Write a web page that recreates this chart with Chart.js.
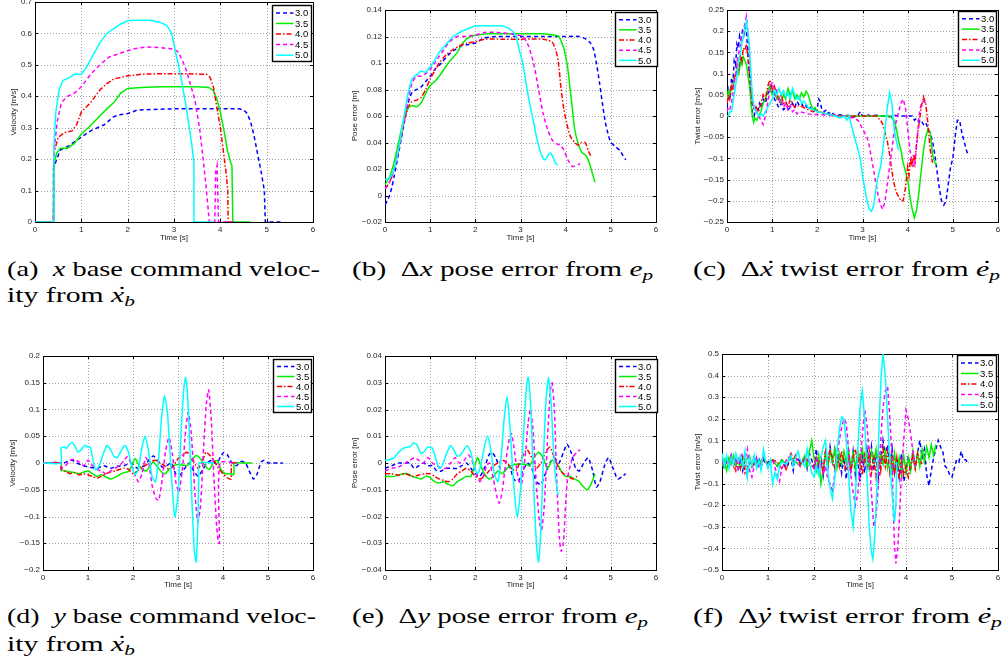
<!DOCTYPE html>
<html><head><meta charset="utf-8">
<script src="https://cdn.jsdelivr.net/npm/chart.js@4/dist/chart.umd.min.js"></script>
<style>
html,body{margin:0;padding:0;background:#fff}
body{width:1004px;height:666px;position:relative;overflow:hidden}
canvas{position:absolute}
.cap{position:absolute;display:inline-block;font-family:"Liberation Serif","Times New Roman",serif;font-size:21px;line-height:21px;white-space:nowrap;transform-origin:0 0;color:#000}
.cap i{font-style:italic}
.acc{position:relative;display:inline-block}
.acc::before{content:"\02D9";position:absolute;left:0.2em;top:-0.06em;font-style:normal}
.cap sub{font-size:0.72em;vertical-align:-0.28em;line-height:0}
</style></head><body>
<canvas id="cA" width="322" height="246" style="left:0px;top:0px"></canvas>
<canvas id="cB" width="330" height="246" style="left:335px;top:0px"></canvas>
<canvas id="cC" width="334" height="246" style="left:670px;top:0px"></canvas>
<canvas id="cD" width="322" height="248" style="left:0px;top:346px"></canvas>
<canvas id="cE" width="330" height="248" style="left:335px;top:346px"></canvas>
<canvas id="cF" width="334" height="248" style="left:670px;top:346px"></canvas>

<div class="cap" id="capA1" data-w="313" style="left:7px;top:259px">(a)&nbsp;&nbsp;<i>x</i> base command veloc-</div>
<div class="cap" id="capA2" data-w="128" style="left:7px;top:285px">ity from <i class="acc">x</i><sub><i>b</i></sub></div>
<div class="cap" id="capB" data-w="301" style="left:352px;top:259px">(b)&nbsp;&nbsp;Δ<i>x</i> pose error from <i>e</i><sub><i>p</i></sub></div>
<div class="cap" id="capC" data-w="307" style="left:693px;top:259px">(c)&nbsp;&nbsp;Δ<i class="acc">x</i> twist error from <i class="acc">e</i><sub><i>p</i></sub></div>
<div class="cap" id="capD1" data-w="309" style="left:7px;top:606px">(d)&nbsp;&nbsp;<i>y</i> base command veloc-</div>
<div class="cap" id="capD2" data-w="128" style="left:7px;top:634px">ity from <i class="acc">x</i><sub><i>b</i></sub></div>
<div class="cap" id="capE" data-w="296" style="left:352px;top:606px">(e)&nbsp;&nbsp;Δ<i>y</i> pose error from <i>e</i><sub><i>p</i></sub></div>
<div class="cap" id="capF" data-w="309" style="left:693px;top:606px">(f)&nbsp;&nbsp;Δ<i class="acc">y</i> twist error from <i class="acc">e</i><sub><i>p</i></sub></div>

<script>
// ---------- series / ticks ----------
const seriesLabels = ['3.0','3.5','4.0','4.5','5.0'];
const xTicks = [0,1,2,3,4,5,6];
const xTickLabels = ['0','1','2','3','4','5','6'];
const xTitle = 'Time [s]';

const yTicksA = [0,0.1,0.2,0.3,0.4,0.5,0.6,0.7];
const yTickLabelsA = ['0','0.1','0.2','0.3','0.4','0.5','0.6','0.7'];
const yTicksB = [-0.02,0,0.02,0.04,0.06,0.08,0.1,0.12,0.14];
const yTickLabelsB = ['\u22120.02','0','0.02','0.04','0.06','0.08','0.1','0.12','0.14'];
const yTicksC = [-0.25,-0.2,-0.15,-0.1,-0.05,0,0.05,0.1,0.15,0.2,0.25];
const yTickLabelsC = ['\u22120.25','\u22120.2','\u22120.15','\u22120.1','\u22120.05','0','0.05','0.1','0.15','0.2','0.25'];
const yTicksD = [-0.2,-0.15,-0.1,-0.05,0,0.05,0.1,0.15,0.2];
const yTickLabelsD = ['\u22120.2','\u22120.15','\u22120.1','\u22120.05','0','0.05','0.1','0.15','0.2'];
const yTicksE = [-0.04,-0.03,-0.02,-0.01,0,0.01,0.02,0.03,0.04];
const yTickLabelsE = ['\u22120.04','\u22120.03','\u22120.02','\u22120.01','0','0.01','0.02','0.03','0.04'];
const yTicksF = [-0.5,-0.4,-0.3,-0.2,-0.1,0,0.1,0.2,0.3,0.4,0.5];
const yTickLabelsF = ['\u22120.5','\u22120.4','\u22120.3','\u22120.2','\u22120.1','0','0.1','0.2','0.3','0.4','0.5'];

// (a) x base command velocity [t, v]
const velX30 = [[0,0],[0.4,0],[0.4,0.17],[0.47,0.2],[0.55,0.23],[0.7,0.24],[0.85,0.255],[1.0,0.27],[1.2,0.29],[1.35,0.3],[1.5,0.31],[1.7,0.335],[1.85,0.342],[2.0,0.345],[2.1,0.35],[2.2,0.356],[2.5,0.358],[3.0,0.36],[3.5,0.36],[4.0,0.36],[4.4,0.36],[4.5,0.357],[4.58,0.345],[4.65,0.32],[4.72,0.28],[4.8,0.22],[4.88,0.16],[4.95,0.1],[4.97,0],[5.33,0]];
const velX35 = [[0,0],[0.4,0],[0.4,0.18],[0.47,0.22],[0.55,0.235],[0.7,0.235],[0.85,0.25],[1.0,0.28],[1.15,0.3],[1.35,0.33],[1.55,0.36],[1.7,0.38],[1.85,0.41],[2.0,0.425],[2.3,0.428],[2.7,0.43],[3.0,0.43],[3.5,0.43],[3.75,0.428],[3.85,0.418],[3.93,0.39],[4.0,0.35],[4.08,0.29],[4.15,0.23],[4.22,0.19],[4.25,0.18],[4.27,0],[4.65,0]];
const velX40 = [[0,0],[0.4,0],[0.41,0.22],[0.5,0.27],[0.65,0.285],[0.8,0.29],[0.9,0.31],[1.0,0.35],[1.2,0.38],[1.4,0.42],[1.55,0.44],[1.7,0.455],[2.0,0.465],[2.3,0.47],[2.7,0.472],[3.2,0.472],[3.6,0.47],[3.7,0.47],[3.78,0.46],[3.85,0.43],[3.92,0.37],[4.0,0.3],[4.07,0.22],[4.13,0.15],[4.16,0.1],[4.17,0],[4.3,0]];
const velX45 = [[0,0],[0.4,0],[0.42,0.24],[0.48,0.32],[0.57,0.38],[0.7,0.4],[0.85,0.41],[1.0,0.43],[1.2,0.47],[1.4,0.5],[1.6,0.525],[1.9,0.54],[2.1,0.55],[2.4,0.557],[2.7,0.555],[3.0,0.55],[3.1,0.54],[3.25,0.49],[3.35,0.44],[3.45,0.39],[3.55,0.3],[3.63,0.2],[3.7,0.1],[3.75,0.02],[3.76,0],[3.88,0],[3.9,0.16],[3.93,0.18],[3.96,0],[4.3,0]];
const velX50 = [[0,0],[0.4,0],[0.41,0.25],[0.45,0.35],[0.52,0.42],[0.6,0.45],[0.75,0.46],[0.85,0.47],[1.0,0.47],[1.1,0.49],[1.25,0.53],[1.4,0.57],[1.55,0.6],[1.7,0.615],[1.85,0.63],[2.0,0.64],[2.2,0.642],[2.5,0.642],[2.7,0.635],[2.85,0.625],[2.95,0.6],[3.05,0.53],[3.15,0.46],[3.27,0.36],[3.38,0.25],[3.43,0.19],[3.43,0],[3.84,0]];

// (b) x pose error
const poseX30 = [[0,-0.007],[0.05,-0.004],[0.1,0.0],[0.15,0.006],[0.2,0.014],[0.3,0.032],[0.4,0.05],[0.5,0.068],[0.6,0.078],[0.7,0.08],[0.8,0.082],[0.9,0.086],[1.0,0.09],[1.1,0.095],[1.25,0.1],[1.4,0.106],[1.55,0.11],[1.7,0.113],[1.85,0.114],[2.0,0.115],[2.1,0.117],[2.2,0.119],[2.5,0.12],[3.0,0.12],[3.5,0.12],[4.0,0.12],[4.3,0.12],[4.45,0.118],[4.55,0.115],[4.62,0.11],[4.68,0.1],[4.75,0.085],[4.82,0.068],[4.88,0.055],[4.95,0.045],[5.0,0.04],[5.1,0.037],[5.2,0.034],[5.27,0.03],[5.33,0.027]];
const poseX35 = [[0,0.008],[0.1,0.014],[0.2,0.025],[0.3,0.04],[0.4,0.055],[0.5,0.065],[0.55,0.067],[0.6,0.068],[0.7,0.067],[0.8,0.07],[0.9,0.077],[1.0,0.083],[1.1,0.086],[1.2,0.09],[1.3,0.095],[1.4,0.1],[1.5,0.104],[1.6,0.108],[1.7,0.114],[1.8,0.118],[1.9,0.12],[2.0,0.121],[2.3,0.122],[3.0,0.122],[3.5,0.122],[3.75,0.121],[3.85,0.12],[3.95,0.112],[4.0,0.105],[4.05,0.095],[4.1,0.08],[4.15,0.065],[4.2,0.05],[4.27,0.04],[4.35,0.033],[4.45,0.03],[4.52,0.025],[4.58,0.018],[4.65,0.01]];
const poseX40 = [[0,0.005],[0.1,0.01],[0.2,0.02],[0.3,0.035],[0.4,0.052],[0.5,0.066],[0.6,0.071],[0.7,0.072],[0.8,0.074],[0.9,0.08],[1.0,0.088],[1.1,0.094],[1.2,0.1],[1.35,0.106],[1.5,0.11],[1.65,0.113],[1.8,0.115],[2.0,0.116],[2.2,0.118],[2.6,0.118],[3.0,0.118],[3.5,0.118],[3.62,0.117],[3.7,0.116],[3.78,0.11],[3.84,0.1],[3.9,0.08],[3.96,0.065],[4.02,0.055],[4.1,0.045],[4.2,0.04],[4.28,0.038],[4.35,0.04],[4.43,0.04],[4.5,0.034],[4.55,0.03]];
const poseX45 = [[0,0.005],[0.1,0.01],[0.2,0.02],[0.3,0.035],[0.4,0.052],[0.5,0.07],[0.6,0.085],[0.7,0.09],[0.8,0.09],[0.9,0.092],[1.0,0.095],[1.1,0.1],[1.2,0.105],[1.3,0.11],[1.4,0.115],[1.5,0.118],[1.6,0.12],[1.8,0.12],[2.0,0.121],[2.2,0.123],[2.5,0.123],[2.8,0.122],[2.95,0.121],[3.05,0.12],[3.15,0.115],[3.25,0.105],[3.32,0.095],[3.4,0.08],[3.5,0.062],[3.6,0.05],[3.7,0.042],[3.8,0.039],[3.88,0.038],[3.95,0.035],[4.05,0.027],[4.15,0.022],[4.25,0.023],[4.32,0.024]];
const poseX50 = [[0,0.012],[0.1,0.013],[0.2,0.02],[0.3,0.035],[0.4,0.055],[0.5,0.075],[0.6,0.088],[0.7,0.091],[0.8,0.094],[0.9,0.093],[1.0,0.097],[1.1,0.102],[1.2,0.108],[1.3,0.112],[1.4,0.116],[1.5,0.12],[1.6,0.122],[1.7,0.124],[1.85,0.126],[2.0,0.128],[2.3,0.128],[2.6,0.128],[2.75,0.126],[2.85,0.123],[2.9,0.12],[2.97,0.11],[3.05,0.1],[3.12,0.085],[3.2,0.07],[3.28,0.057],[3.35,0.045],[3.42,0.035],[3.5,0.028],[3.55,0.027],[3.62,0.031],[3.67,0.032],[3.73,0.028],[3.78,0.024],[3.83,0.023]];

// (c) x twist error
const twistX30 = [[0,0.02],[0.04,0.06],[0.07,0.04],[0.1,0.09],[0.13,0.08],[0.16,0.13],[0.19,0.12],[0.22,0.17],[0.25,0.16],[0.28,0.19],[0.31,0.18],[0.34,0.2],[0.37,0.19],[0.4,0.21],[0.43,0.2],[0.46,0.15],[0.5,0.09],[0.53,0.05],[0.56,0.01],[0.6,0.0],[0.64,0.02],[0.68,0.01],[0.72,0.03],[0.76,0.02],[0.8,0.04],[0.85,0.03],[0.9,0.05],[0.95,0.07],[1.0,0.06],[1.05,0.04],[1.1,0.03],[1.15,0.02],[1.2,0.03],[1.25,0.015],[1.3,0.02],[1.35,0.015],[1.4,0.02],[1.45,0.03],[1.5,0.02],[1.55,0.035],[1.6,0.025],[1.65,0.03],[1.7,0.02],[1.75,0.025],[1.8,0.015],[1.85,0.02],[1.9,0.01],[1.95,0.015],[2.0,0.02],[2.03,0.04],[2.06,0.035],[2.1,0.015],[2.15,0.01],[2.2,0.015],[2.25,0.005],[2.3,0.01],[2.35,0.005],[2.4,0.0],[2.5,0.003],[2.6,0.0],[2.7,0.002],[2.8,-0.003],[2.9,0.002],[2.95,0.01],[3.0,0.0],[3.1,0.003],[3.2,0.0],[3.3,0.002],[3.4,0.0],[3.5,0.0],[3.6,-0.002],[3.7,0.002],[3.8,0.0],[3.9,0.0],[4.0,0.0],[4.1,0.0],[4.15,-0.01],[4.2,-0.005],[4.25,-0.015],[4.3,-0.01],[4.35,-0.02],[4.4,-0.015],[4.45,-0.03],[4.5,-0.04],[4.55,-0.06],[4.6,-0.09],[4.65,-0.13],[4.7,-0.17],[4.75,-0.2],[4.8,-0.21],[4.85,-0.2],[4.9,-0.16],[4.95,-0.12],[5.0,-0.1],[5.05,-0.05],[5.1,-0.01],[5.15,-0.01],[5.2,-0.04],[5.25,-0.06],[5.3,-0.08],[5.33,-0.09]];
const twistX35 = [[0,0.04],[0.03,0.06],[0.06,0.05],[0.1,0.07],[0.13,0.065],[0.16,0.09],[0.2,0.1],[0.23,0.11],[0.26,0.1],[0.3,0.13],[0.33,0.12],[0.36,0.14],[0.4,0.13],[0.43,0.12],[0.46,0.1],[0.5,0.07],[0.53,0.03],[0.56,0.0],[0.59,-0.015],[0.62,-0.005],[0.66,-0.01],[0.7,0.0],[0.75,0.01],[0.8,0.03],[0.85,0.04],[0.9,0.06],[0.95,0.07],[1.0,0.05],[1.05,0.06],[1.1,0.04],[1.15,0.045],[1.2,0.03],[1.25,0.05],[1.3,0.04],[1.35,0.065],[1.4,0.05],[1.45,0.06],[1.5,0.04],[1.55,0.05],[1.6,0.04],[1.65,0.055],[1.7,0.045],[1.75,0.058],[1.8,0.05],[1.85,0.03],[1.9,0.015],[1.95,0.02],[2.0,0.01],[2.1,0.008],[2.2,0.005],[2.3,0.003],[2.4,0.0],[2.6,0.0],[2.8,0.0],[3.0,0.0],[3.2,0.0],[3.4,0.0],[3.6,0.0],[3.7,-0.01],[3.75,-0.03],[3.8,-0.06],[3.85,-0.08],[3.9,-0.11],[3.95,-0.13],[4.0,-0.15],[4.05,-0.19],[4.1,-0.22],[4.15,-0.24],[4.2,-0.22],[4.25,-0.18],[4.3,-0.13],[4.35,-0.08],[4.4,-0.05],[4.45,-0.03],[4.5,-0.04],[4.55,-0.09],[4.6,-0.11],[4.65,-0.115]];
const twistX40 = [[0,0.03],[0.03,0.05],[0.06,0.04],[0.1,0.07],[0.13,0.06],[0.16,0.09],[0.2,0.1],[0.23,0.12],[0.26,0.11],[0.3,0.14],[0.33,0.13],[0.36,0.16],[0.4,0.155],[0.43,0.17],[0.46,0.14],[0.5,0.1],[0.53,0.06],[0.56,0.03],[0.6,0.015],[0.65,0.02],[0.7,0.01],[0.75,0.03],[0.8,0.05],[0.85,0.04],[0.9,0.07],[0.95,0.085],[1.0,0.06],[1.05,0.07],[1.1,0.05],[1.15,0.04],[1.2,0.05],[1.25,0.03],[1.3,0.035],[1.35,0.02],[1.4,0.04],[1.45,0.03],[1.5,0.02],[1.6,0.025],[1.7,0.02],[1.8,0.015],[1.9,0.01],[2.0,0.012],[2.1,0.008],[2.2,0.005],[2.35,0.003],[2.5,0.0],[2.7,0.0],[2.9,0.0],[3.1,0.0],[3.3,0.0],[3.4,-0.01],[3.45,-0.02],[3.5,-0.04],[3.55,-0.06],[3.6,-0.09],[3.65,-0.13],[3.7,-0.16],[3.75,-0.18],[3.8,-0.19],[3.85,-0.2],[3.9,-0.2],[3.95,-0.17],[4.0,-0.12],[4.03,-0.14],[4.06,-0.1],[4.1,-0.12],[4.13,-0.09],[4.16,-0.11],[4.2,-0.06],[4.25,-0.02],[4.3,0.02],[4.35,0.045],[4.4,0.03],[4.45,-0.02],[4.5,-0.08],[4.55,-0.11]];
const twistX45 = [[0,0.01],[0.03,0.02],[0.06,0.015],[0.1,0.03],[0.13,0.05],[0.16,0.08],[0.2,0.1],[0.23,0.13],[0.26,0.15],[0.3,0.17],[0.33,0.19],[0.36,0.2],[0.4,0.22],[0.43,0.235],[0.46,0.2],[0.5,0.14],[0.53,0.08],[0.56,0.04],[0.6,0.02],[0.65,0.01],[0.7,0.0],[0.75,-0.01],[0.8,-0.02],[0.85,0.0],[0.9,0.03],[0.95,0.06],[1.0,0.08],[1.05,0.05],[1.1,0.06],[1.15,0.03],[1.2,0.04],[1.25,0.02],[1.3,0.03],[1.35,0.015],[1.4,0.025],[1.45,0.01],[1.5,0.015],[1.55,0.005],[1.6,0.01],[1.7,0.008],[1.8,0.005],[1.9,0.003],[2.0,0.004],[2.2,0.002],[2.4,0.0],[2.6,0.0],[2.8,-0.005],[2.9,-0.01],[2.95,-0.02],[3.0,-0.03],[3.05,-0.04],[3.1,-0.05],[3.15,-0.07],[3.2,-0.1],[3.25,-0.13],[3.3,-0.16],[3.35,-0.19],[3.4,-0.21],[3.45,-0.22],[3.5,-0.2],[3.55,-0.16],[3.6,-0.12],[3.65,-0.08],[3.7,-0.04],[3.75,-0.01],[3.8,0.01],[3.85,0.03],[3.9,0.04],[3.95,0.02],[4.0,-0.03],[4.05,-0.08],[4.1,-0.11],[4.15,-0.12],[4.2,-0.07],[4.25,0.0],[4.3,0.03],[4.35,0.035],[4.4,0.03]];
const twistX50 = [[0,0.0],[0.03,0.0],[0.06,0.01],[0.1,0.01],[0.13,0.03],[0.16,0.05],[0.2,0.08],[0.23,0.1],[0.26,0.13],[0.3,0.15],[0.33,0.17],[0.36,0.19],[0.4,0.21],[0.43,0.225],[0.46,0.2],[0.5,0.16],[0.53,0.1],[0.56,0.05],[0.6,0.02],[0.65,0.01],[0.7,0.0],[0.75,0.005],[0.8,0.0],[0.85,0.01],[0.9,0.02],[0.95,0.03],[1.0,0.04],[1.05,0.06],[1.1,0.05],[1.15,0.065],[1.2,0.05],[1.25,0.06],[1.3,0.045],[1.35,0.055],[1.4,0.04],[1.45,0.065],[1.5,0.05],[1.55,0.04],[1.6,0.045],[1.65,0.03],[1.7,0.035],[1.8,0.02],[1.9,0.015],[2.0,0.01],[2.1,0.008],[2.2,0.005],[2.3,0.003],[2.4,0.0],[2.5,-0.005],[2.6,0.0],[2.65,-0.01],[2.7,0.0],[2.75,-0.02],[2.8,-0.04],[2.85,-0.06],[2.9,-0.08],[2.95,-0.1],[3.0,-0.14],[3.05,-0.17],[3.1,-0.2],[3.15,-0.22],[3.2,-0.225],[3.25,-0.21],[3.3,-0.17],[3.35,-0.14],[3.4,-0.12],[3.45,-0.08],[3.5,-0.03],[3.55,0.02],[3.6,0.055],[3.65,0.03],[3.7,-0.03],[3.75,-0.06],[3.8,-0.08]];

// (d) y base command velocity
const velY30 = [[0,0],[0.4,0],[0.45,0.0],[0.55,0.003],[0.65,0.005],[0.75,0.0],[0.9,-0.005],[1.05,-0.008],[1.2,-0.01],[1.35,-0.005],[1.5,-0.01],[1.65,-0.006],[1.8,-0.005],[1.95,0.0],[2.1,-0.01],[2.25,-0.005],[2.35,0.005],[2.45,0.013],[2.55,0.005],[2.65,-0.008],[2.75,-0.005],[2.85,0.0],[2.95,-0.02],[3.05,-0.022],[3.15,-0.01],[3.25,0.0],[3.35,-0.015],[3.45,-0.025],[3.55,-0.012],[3.65,0.0],[3.75,0.005],[3.85,-0.002],[3.95,0.012],[4.02,0.02],[4.1,0.015],[4.2,0.0],[4.3,-0.005],[4.4,0.003],[4.5,0.0],[4.6,-0.018],[4.68,-0.03],[4.76,-0.02],[4.85,0.002],[4.92,0.005],[5.0,0.0],[5.1,0.0],[5.33,0.0]];
const velY35 = [[0,0],[0.4,0],[0.4,-0.013],[0.5,-0.015],[0.6,-0.017],[0.7,-0.018],[0.8,-0.02],[0.9,-0.017],[1.0,-0.015],[1.1,-0.02],[1.2,-0.025],[1.3,-0.022],[1.4,-0.026],[1.5,-0.03],[1.6,-0.027],[1.7,-0.022],[1.8,-0.018],[1.9,-0.016],[1.97,-0.005],[2.05,0.008],[2.12,-0.002],[2.2,-0.012],[2.3,-0.015],[2.38,-0.005],[2.45,0.002],[2.55,-0.008],[2.65,-0.018],[2.72,-0.02],[2.8,-0.012],[2.9,-0.005],[3.0,-0.003],[3.1,-0.004],[3.2,-0.005],[3.3,0.005],[3.4,0.014],[3.5,0.008],[3.6,-0.005],[3.7,-0.012],[3.8,0.003],[3.88,0.004],[3.95,-0.012],[4.05,-0.02],[4.15,-0.02],[4.24,-0.022],[4.25,0.0],[4.4,0.0],[4.65,0.0]];
const velY40 = [[0,0],[0.4,0],[0.4,-0.012],[0.5,-0.016],[0.6,-0.02],[0.7,-0.018],[0.8,-0.022],[0.9,-0.02],[1.0,-0.022],[1.1,-0.025],[1.2,-0.028],[1.3,-0.025],[1.4,-0.02],[1.5,-0.017],[1.6,-0.015],[1.7,-0.012],[1.8,-0.01],[1.9,-0.012],[2.0,-0.02],[2.1,-0.015],[2.2,-0.008],[2.3,-0.003],[2.4,0.003],[2.5,0.005],[2.6,0.0],[2.7,-0.005],[2.8,-0.012],[2.9,-0.005],[3.0,0.008],[3.1,0.015],[3.2,0.02],[3.3,0.01],[3.4,-0.005],[3.45,-0.01],[3.55,0.005],[3.62,0.02],[3.7,0.015],[3.8,0.005],[3.9,-0.01],[4.0,-0.02],[4.1,-0.028],[4.18,-0.03],[4.19,0.0],[4.3,0.0]];
const velY45 = [[0,0],[0.4,0],[0.42,-0.01],[0.5,-0.005],[0.6,0.005],[0.7,0.007],[0.8,0.002],[0.9,-0.005],[1.0,0.005],[1.1,-0.005],[1.2,-0.012],[1.3,-0.015],[1.4,-0.02],[1.5,-0.015],[1.6,-0.01],[1.7,-0.005],[1.8,0.005],[1.88,0.012],[1.95,0.0],[2.03,-0.02],[2.12,-0.035],[2.2,-0.02],[2.28,0.01],[2.35,0.0],[2.42,-0.04],[2.5,-0.065],[2.57,-0.07],[2.65,-0.03],[2.72,0.02],[2.8,0.048],[2.87,0.02],[2.95,-0.035],[3.02,-0.055],[3.1,-0.01],[3.17,0.06],[3.23,0.095],[3.3,0.05],[3.37,-0.05],[3.44,-0.11],[3.5,-0.08],[3.57,0.03],[3.63,0.11],[3.68,0.137],[3.74,0.08],[3.8,-0.03],[3.86,-0.12],[3.9,-0.15],[3.92,-0.15],[3.93,0.0],[4.3,0.0]];
const velY50 = [[0,0],[0.4,0],[0.4,0.028],[0.47,0.03],[0.52,0.027],[0.58,0.034],[0.65,0.038],[0.72,0.03],[0.78,0.02],[0.85,0.025],[0.92,0.033],[1.0,0.03],[1.05,0.03],[1.1,0.01],[1.17,-0.013],[1.25,-0.005],[1.32,0.012],[1.42,0.033],[1.5,0.025],[1.58,0.012],[1.65,0.01],[1.75,0.025],[1.82,0.033],[1.9,0.02],[1.97,-0.005],[2.05,-0.022],[2.12,-0.01],[2.2,0.03],[2.27,0.05],[2.35,0.02],[2.42,-0.025],[2.5,-0.035],[2.57,0.01],[2.63,0.08],[2.7,0.125],[2.77,0.09],[2.85,-0.02],[2.93,-0.1],[3.0,-0.06],[3.07,0.06],[3.13,0.14],[3.17,0.16],[3.23,0.1],[3.3,-0.05],[3.36,-0.16],[3.4,-0.185],[3.44,-0.12],[3.46,-0.03],[3.47,0.0],[3.8,0.0]];

// (e) y pose error
const poseY30 = [[0,-0.002],[0.15,-0.001],[0.3,0.0],[0.45,0.0],[0.55,0.0],[0.65,-0.002],[0.75,-0.001],[0.85,0.0],[0.95,-0.001],[1.05,-0.001],[1.15,-0.003],[1.25,-0.003],[1.35,-0.002],[1.5,-0.002],[1.6,-0.002],[1.7,-0.001],[1.8,0.0],[1.9,-0.002],[2.0,-0.004],[2.1,-0.005],[2.2,-0.002],[2.3,0.003],[2.37,0.004],[2.45,0.002],[2.55,-0.002],[2.65,-0.003],[2.75,-0.001],[2.85,-0.006],[2.95,-0.007],[3.05,-0.003],[3.15,0.0],[3.25,-0.002],[3.35,-0.007],[3.45,-0.008],[3.55,-0.004],[3.65,0.0],[3.75,0.002],[3.85,0.0],[3.95,0.004],[4.03,0.007],[4.12,0.004],[4.22,-0.002],[4.3,-0.003],[4.4,0.0],[4.5,0.002],[4.6,-0.003],[4.68,-0.009],[4.76,-0.007],[4.86,-0.001],[4.95,0.002],[5.05,-0.002],[5.15,-0.006],[5.25,-0.005],[5.33,-0.004]];
const poseY35 = [[0,-0.005],[0.1,-0.005],[0.2,-0.005],[0.3,-0.0045],[0.4,-0.004],[0.5,-0.004],[0.6,-0.005],[0.7,-0.0055],[0.8,-0.006],[0.9,-0.005],[1.0,-0.0055],[1.1,-0.007],[1.2,-0.0075],[1.3,-0.007],[1.4,-0.008],[1.5,-0.0085],[1.6,-0.007],[1.7,-0.006],[1.8,-0.005],[1.9,-0.005],[1.97,-0.002],[2.05,0.002],[2.12,-0.001],[2.2,-0.004],[2.3,-0.006],[2.4,-0.005],[2.5,-0.003],[2.6,-0.004],[2.7,-0.002],[2.8,-0.001],[2.9,-0.0005],[3.0,-0.0005],[3.1,-0.0005],[3.2,-0.001],[3.3,0.002],[3.4,0.004],[3.5,0.002],[3.6,-0.002],[3.7,0.001],[3.8,0.0],[3.9,-0.003],[4.0,-0.005],[4.1,-0.005],[4.2,-0.006],[4.3,-0.007],[4.4,-0.009],[4.48,-0.01],[4.56,-0.008],[4.65,-0.004]];
const poseY40 = [[0,-0.004],[0.15,-0.004],[0.3,-0.0045],[0.45,-0.004],[0.6,-0.005],[0.75,-0.0045],[0.9,-0.004],[1.0,-0.004],[1.1,-0.005],[1.2,-0.006],[1.3,-0.0065],[1.4,-0.007],[1.5,-0.006],[1.6,-0.004],[1.7,-0.003],[1.8,-0.002],[1.9,-0.003],[2.0,-0.005],[2.1,-0.006],[2.2,-0.005],[2.3,-0.003],[2.4,-0.001],[2.5,0.0],[2.6,0.001],[2.7,0.0],[2.8,-0.002],[2.9,-0.003],[3.0,0.001],[3.1,0.004],[3.15,0.005],[3.25,0.002],[3.35,-0.002],[3.45,0.0],[3.55,0.004],[3.65,0.006],[3.75,0.002],[3.85,-0.002],[3.95,-0.004],[4.05,-0.005],[4.15,-0.006],[4.25,-0.005]];
const poseY45 = [[0,-0.003],[0.15,-0.002],[0.3,-0.0015],[0.45,0.0],[0.55,0.001],[0.65,0.002],[0.75,0.001],[0.85,0.0],[0.95,0.002],[1.05,0.0],[1.15,-0.001],[1.25,-0.002],[1.35,-0.002],[1.45,0.0],[1.55,0.002],[1.65,0.0],[1.75,0.001],[1.85,0.003],[1.95,0.0],[2.02,-0.004],[2.1,-0.007],[2.18,-0.005],[2.25,-0.001],[2.32,0.0],[2.4,-0.006],[2.47,-0.012],[2.53,-0.015],[2.6,-0.01],[2.67,0.0],[2.75,0.009],[2.8,0.011],[2.87,0.004],[2.95,-0.006],[3.02,-0.008],[3.1,0.002],[3.17,0.015],[3.22,0.02],[3.28,0.012],[3.35,-0.008],[3.42,-0.022],[3.47,-0.025],[3.53,-0.015],[3.6,0.01],[3.66,0.027],[3.7,0.03],[3.75,0.02],[3.8,-0.005],[3.86,-0.028],[3.9,-0.033],[3.95,-0.03],[4.0,-0.015],[4.05,-0.005],[4.15,0.002],[4.25,0.004],[4.32,0.005]];
const poseY50 = [[0,0.001],[0.1,0.0012],[0.2,0.002],[0.3,0.004],[0.4,0.0055],[0.5,0.006],[0.55,0.006],[0.63,0.0075],[0.7,0.007],[0.8,0.0035],[0.88,0.0045],[0.95,0.006],[1.05,0.0055],[1.12,0.002],[1.2,-0.002],[1.27,-0.001],[1.35,0.003],[1.45,0.0065],[1.52,0.005],[1.6,0.0025],[1.67,0.003],[1.75,0.005],[1.82,0.0065],[1.9,0.004],[1.97,-0.001],[2.05,-0.004],[2.12,-0.001],[2.2,0.006],[2.27,0.0102],[2.33,0.006],[2.42,-0.004],[2.5,-0.007],[2.57,0.002],[2.63,0.015],[2.7,0.025],[2.76,0.015],[2.85,-0.008],[2.93,-0.02],[3.0,-0.01],[3.07,0.012],[3.13,0.028],[3.17,0.032],[3.23,0.02],[3.3,-0.012],[3.36,-0.032],[3.4,-0.037],[3.45,-0.025],[3.5,-0.002],[3.56,0.022],[3.62,0.032],[3.68,0.022],[3.73,0.005],[3.78,-0.006],[3.83,-0.012]];

// (f) y twist error
const twistY30 = [[0,0.02],[0.05,-0.03],[0.1,0.01],[0.15,-0.02],[0.2,0.03],[0.25,-0.01],[0.3,0.02],[0.35,-0.03],[0.4,0.01],[0.45,-0.04],[0.5,0.02],[0.55,-0.06],[0.6,0.0],[0.65,-0.02],[0.7,0.03],[0.75,-0.01],[0.8,0.02],[0.85,-0.02],[0.9,0.01],[0.95,-0.01],[1.0,0.0],[1.1,0.01],[1.2,-0.02],[1.3,0.01],[1.4,-0.03],[1.5,0.02],[1.55,-0.04],[1.6,0.03],[1.7,0.0],[1.8,0.02],[1.85,-0.03],[1.9,0.04],[2.0,-0.02],[2.05,0.06],[2.1,-0.04],[2.15,0.02],[2.2,-0.06],[2.25,0.05],[2.3,-0.03],[2.35,0.07],[2.4,0.0],[2.45,0.06],[2.5,-0.02],[2.55,0.04],[2.6,-0.05],[2.65,0.02],[2.7,-0.08],[2.75,0.03],[2.8,-0.04],[2.85,0.05],[2.9,-0.06],[2.95,0.02],[3.0,-0.09],[3.05,0.03],[3.1,-0.05],[3.15,0.06],[3.2,-0.02],[3.25,0.07],[3.3,-0.04],[3.35,0.05],[3.4,-0.08],[3.45,0.0],[3.5,0.1],[3.55,0.03],[3.6,0.08],[3.65,-0.03],[3.7,0.06],[3.75,-0.05],[3.8,0.02],[3.85,-0.07],[3.9,0.04],[3.95,-0.09],[4.0,-0.05],[4.05,0.03],[4.1,-0.04],[4.15,0.05],[4.2,-0.02],[4.25,0.04],[4.3,0.1],[4.35,0.02],[4.4,0.06],[4.45,-0.06],[4.5,-0.11],[4.55,-0.04],[4.6,0.02],[4.65,0.06],[4.7,0.1],[4.75,0.07],[4.8,0.05],[4.85,-0.02],[4.9,-0.03],[4.95,-0.06],[5.0,-0.07],[5.05,-0.03],[5.1,0.01],[5.15,0.0],[5.2,0.05],[5.25,0.01],[5.3,0.01],[5.33,0.0]];
const twistY35 = [[0,-0.02],[0.05,0.01],[0.1,-0.04],[0.15,0.02],[0.2,-0.01],[0.25,0.03],[0.3,-0.02],[0.35,0.01],[0.4,-0.03],[0.45,0.02],[0.5,0.0],[0.6,0.03],[0.65,-0.02],[0.7,0.01],[0.8,-0.01],[0.9,0.02],[1.0,-0.01],[1.1,0.01],[1.2,-0.02],[1.3,0.01],[1.4,-0.01],[1.5,0.02],[1.6,0.0],[1.7,-0.02],[1.8,0.03],[1.85,-0.02],[1.9,0.05],[1.95,0.1],[2.0,0.02],[2.05,-0.04],[2.1,0.03],[2.15,-0.1],[2.2,-0.03],[2.25,0.04],[2.3,-0.02],[2.35,0.05],[2.4,0.0],[2.45,0.06],[2.5,-0.03],[2.55,0.04],[2.6,-0.01],[2.65,0.05],[2.7,0.0],[2.75,0.06],[2.8,-0.02],[2.85,0.04],[2.9,-0.03],[2.95,0.05],[3.0,-0.01],[3.05,0.06],[3.1,0.0],[3.15,0.04],[3.2,-0.03],[3.25,0.05],[3.3,0.0],[3.35,0.06],[3.4,-0.02],[3.45,0.04],[3.5,-0.01],[3.55,0.05],[3.6,-0.03],[3.65,0.03],[3.7,-0.05],[3.75,0.04],[3.8,-0.04],[3.85,0.02],[3.9,-0.06],[3.95,0.03],[4.0,-0.05],[4.05,0.02],[4.1,-0.04],[4.15,0.05],[4.2,-0.03],[4.25,0.04],[4.3,-0.02],[4.35,0.06],[4.4,0.0],[4.45,0.07],[4.5,0.02],[4.55,0.08],[4.6,0.03],[4.65,0.08]];
const twistY40 = [[0,0.0],[0.05,-0.02],[0.1,0.01],[0.15,-0.03],[0.2,0.02],[0.25,-0.01],[0.3,-0.04],[0.35,0.01],[0.4,-0.03],[0.45,0.02],[0.5,-0.05],[0.55,-0.02],[0.6,0.01],[0.65,-0.03],[0.7,0.0],[0.8,-0.02],[0.9,0.01],[1.0,-0.01],[1.1,0.01],[1.2,0.0],[1.3,-0.03],[1.35,-0.01],[1.4,-0.04],[1.45,0.02],[1.5,0.04],[1.55,0.01],[1.6,0.03],[1.7,-0.01],[1.8,0.02],[1.9,0.0],[2.0,-0.03],[2.05,0.02],[2.1,-0.01],[2.15,0.03],[2.2,-0.04],[2.25,0.05],[2.3,0.0],[2.35,0.06],[2.4,0.02],[2.45,-0.03],[2.5,0.04],[2.55,-0.02],[2.6,0.05],[2.65,0.0],[2.7,-0.04],[2.75,0.03],[2.8,-0.05],[2.85,0.02],[2.9,0.06],[2.95,-0.02],[3.0,0.04],[3.05,-0.06],[3.1,0.03],[3.15,-0.03],[3.2,0.05],[3.25,-0.05],[3.3,0.02],[3.35,-0.07],[3.4,0.04],[3.45,-0.04],[3.5,0.06],[3.55,-0.02],[3.6,0.05],[3.65,-0.05],[3.7,0.03],[3.75,-0.06],[3.8,0.02],[3.85,-0.08],[3.9,0.0],[3.95,-0.06],[4.0,-0.02],[4.05,-0.07],[4.1,-0.01],[4.15,0.03],[4.2,-0.03],[4.25,0.04],[4.3,0.01],[4.35,-0.01]];
const twistY45 = [[0,0.01],[0.05,-0.02],[0.1,0.02],[0.15,-0.01],[0.2,0.03],[0.25,-0.02],[0.3,0.01],[0.35,-0.03],[0.4,0.02],[0.45,0.04],[0.5,0.01],[0.55,0.06],[0.6,-0.04],[0.65,-0.07],[0.7,-0.02],[0.75,0.02],[0.8,-0.03],[0.85,0.0],[0.9,0.02],[1.0,-0.02],[1.1,0.01],[1.2,-0.06],[1.25,-0.09],[1.3,-0.03],[1.4,0.01],[1.5,0.03],[1.55,0.0],[1.6,0.02],[1.7,-0.02],[1.8,0.01],[1.9,0.0],[2.0,-0.03],[2.05,0.02],[2.1,-0.05],[2.15,0.0],[2.2,-0.06],[2.25,-0.02],[2.3,-0.08],[2.35,-0.1],[2.4,-0.13],[2.45,-0.06],[2.5,0.02],[2.55,0.1],[2.6,0.16],[2.65,0.2],[2.7,0.18],[2.75,0.06],[2.8,-0.06],[2.85,-0.14],[2.9,-0.2],[2.95,-0.15],[3.0,-0.02],[3.05,0.12],[3.1,0.24],[3.15,0.18],[3.2,0.02],[3.25,-0.15],[3.3,-0.3],[3.35,-0.25],[3.4,-0.1],[3.45,0.1],[3.5,0.25],[3.55,0.33],[3.6,0.35],[3.65,0.2],[3.7,0.0],[3.72,-0.2],[3.75,-0.38],[3.78,-0.47],[3.82,-0.4],[3.86,-0.25],[3.9,-0.05],[3.95,0.1],[4.0,0.24],[4.05,0.2],[4.1,0.13],[4.15,0.05],[4.2,-0.02]];
const twistY50 = [[0,0.04],[0.05,-0.02],[0.1,0.03],[0.15,-0.03],[0.2,0.02],[0.25,-0.01],[0.3,0.04],[0.35,0.0],[0.4,0.03],[0.45,-0.02],[0.5,0.05],[0.55,-0.07],[0.6,0.02],[0.65,-0.02],[0.7,0.03],[0.75,-0.03],[0.8,0.01],[0.85,-0.04],[0.9,0.06],[0.95,0.0],[1.0,-0.03],[1.05,0.01],[1.1,-0.1],[1.15,-0.05],[1.2,-0.08],[1.25,-0.02],[1.3,0.0],[1.4,-0.01],[1.5,0.03],[1.55,-0.02],[1.6,0.02],[1.65,0.05],[1.7,0.01],[1.8,-0.02],[1.85,0.06],[1.9,0.0],[1.95,-0.05],[2.0,-0.07],[2.05,-0.02],[2.1,-0.06],[2.15,0.02],[2.2,0.07],[2.25,0.1],[2.28,0.03],[2.3,-0.05],[2.35,-0.12],[2.4,-0.17],[2.45,-0.08],[2.5,0.05],[2.55,0.15],[2.6,0.21],[2.65,0.2],[2.7,0.1],[2.75,-0.05],[2.8,-0.22],[2.85,-0.3],[2.9,-0.15],[2.95,0.05],[3.0,0.25],[3.05,0.33],[3.1,0.2],[3.15,-0.05],[3.2,-0.3],[3.25,-0.42],[3.28,-0.45],[3.32,-0.35],[3.37,-0.1],[3.42,0.2],[3.46,0.4],[3.5,0.5],[3.55,0.4],[3.6,0.2],[3.65,0.0],[3.7,-0.15],[3.75,-0.28],[3.78,-0.2],[3.8,0.0]];

// ---------- styles ----------
const seriesColors = ['#0000ff','#00ee00','#ff0000','#ff00ff','#00ffff'];
const seriesDash = [[4,3],[],[5,2,1.5,2],[4,3],[]];
const FONT = '"Liberation Sans", Arial, Helvetica, sans-serif';

const framePlugin = {
  id: 'matlabFrame',
  beforeDatasetsDraw(chart) {
    const {ctx, chartArea: a, scales: {x, y}} = chart;
    ctx.save();
    ctx.strokeStyle = '#a0a0a0';
    ctx.lineWidth = 1;
    ctx.setLineDash([1, 2]);
    x.ticks.forEach(t => {
      const px = Math.round(x.getPixelForValue(t.value)) + 0.5;
      ctx.beginPath(); ctx.moveTo(px, a.top); ctx.lineTo(px, a.bottom); ctx.stroke();
    });
    y.ticks.forEach(t => {
      const py = Math.round(y.getPixelForValue(t.value)) + 0.5;
      ctx.beginPath(); ctx.moveTo(a.left, py); ctx.lineTo(a.right, py); ctx.stroke();
    });
    ctx.setLineDash([]);
    ctx.strokeStyle = '#000';
    x.ticks.forEach(t => {
      const px = Math.round(x.getPixelForValue(t.value)) + 0.5;
      ctx.beginPath(); ctx.moveTo(px, a.bottom); ctx.lineTo(px, a.bottom - 3);
      ctx.moveTo(px, a.top); ctx.lineTo(px, a.top + 3); ctx.stroke();
    });
    y.ticks.forEach(t => {
      const py = Math.round(y.getPixelForValue(t.value)) + 0.5;
      ctx.beginPath(); ctx.moveTo(a.left, py); ctx.lineTo(a.left + 3, py);
      ctx.moveTo(a.right, py); ctx.lineTo(a.right - 3, py); ctx.stroke();
    });
    ctx.lineWidth = 1;
    ctx.strokeRect(Math.round(a.left) + 0.5, Math.round(a.top) + 0.5, Math.round(a.right - a.left), Math.round(a.bottom - a.top));
    ctx.restore();
  },
  afterDatasetsDraw(chart) {
    const lg = chart.options.plugins.matlabFrame;
    if (!lg) return;
    const {ctx, chartArea: a} = chart;
    const bx = Math.round(a.right - lg.dx - lg.w) + 0.5, by = Math.round(a.top + lg.dy) + 0.5;
    ctx.save();
    ctx.fillStyle = '#fff';
    ctx.fillRect(bx, by, lg.w, lg.h);
    ctx.strokeStyle = '#000'; ctx.lineWidth = 1.4;
    ctx.strokeRect(bx, by, lg.w, lg.h);
    ctx.font = '9.5px ' + FONT;
    ctx.textBaseline = 'middle';
    ctx.fillStyle = '#000';
    const step = lg.h / 5.3;
    chart.data.datasets.forEach((ds, i) => {
      const cy = by + step * 0.7 + i * step;
      ctx.strokeStyle = ds.borderColor; ctx.lineWidth = 1.5;
      ctx.setLineDash(ds.borderDash || []);
      ctx.beginPath(); ctx.moveTo(bx + 3.5, cy); ctx.lineTo(bx + 21, cy); ctx.stroke();
      ctx.setLineDash([]);
      ctx.fillText(ds.label, bx + 22.5, cy + 0.5);
    });
    ctx.restore();
  }
};

function toXY(pairs) { return pairs.map(p => ({x: p[0], y: p[1]})); }

function makeChart(id, cfg) {
  const datasets = cfg.series.map((s, i) => ({
    label: seriesLabels[i],
    data: toXY(s),
    borderColor: seriesColors[i],
    borderDash: seriesDash[i],
    borderWidth: 1.5,
    pointRadius: 0,
    tension: cfg.tension,
    fill: false,
    order: 4 - i
  }));
  return new Chart(document.getElementById(id), {
    type: 'line',
    data: {datasets},
    plugins: [framePlugin],
    options: {
      responsive: false,
      animation: false,
      devicePixelRatio: 1,
      events: [],
      layout: {padding: {left: 0, top: cfg.padTop, right: cfg.padRight, bottom: 0}},
      plugins: {
        legend: {display: false},
        tooltip: {enabled: false},
        matlabFrame: cfg.legend
      },
      scales: {
        x: {
          type: 'linear', min: 0, max: 6,
          afterBuildTicks: s => { s.ticks = xTicks.map(v => ({value: v})); },
          afterFit: s => { s.height = cfg.xH; s.paddingLeft = 0; s.paddingRight = 0; },
          grid: {display: false, drawTicks: false},
          border: {display: false},
          ticks: {autoSkip: false, maxRotation: 0, padding: 3, color: '#262626',
                  font: {family: FONT, size: 8},
                  callback: (v, i) => xTickLabels[i]},
          title: {display: true, text: xTitle, color: '#262626',
                  font: {family: FONT, size: 8}, padding: {top: 0, bottom: cfg.xTitlePad}}
        },
        y: {
          type: 'linear', min: cfg.yTicks[0], max: cfg.yTicks[cfg.yTicks.length - 1],
          afterBuildTicks: s => { s.ticks = cfg.yTicks.map(v => ({value: v})); },
          afterFit: s => { s.width = cfg.yW; s.paddingTop = 0; s.paddingBottom = 0; },
          grid: {display: false, drawTicks: false},
          border: {display: false},
          ticks: {autoSkip: false, padding: 3, color: '#262626',
                  font: {family: FONT, size: 8},
                  callback: (v, i) => cfg.yTickLabels[i]},
          title: {display: true, text: cfg.yTitle, color: '#262626',
                  font: {family: FONT, size: 8}, padding: {top: cfg.yTitlePad, bottom: 0}}
        }
      }
    }
  });
}

makeChart('cA', {series: [velX30, velX35, velX40, velX45, velX50], tension: 0,
  yTicks: yTicksA, yTickLabels: yTickLabelsA, yTitle: 'Velocity [m/s]',
  yW: 35, xH: 24, padTop: 2, padRight: 9, yTitlePad: 9, xTitlePad: 3,
  legend: {dx: 2, dy: 3, w: 39, h: 56}});
makeChart('cB', {series: [poseX30, poseX35, poseX40, poseX45, poseX50], tension: 0.25,
  yTicks: yTicksB, yTickLabels: yTickLabelsB, yTitle: 'Pose error [m]',
  yW: 50, xH: 24, padTop: 10, padRight: 9, yTitlePad: 15, xTitlePad: 3,
  legend: {dx: -1, dy: 2, w: 42, h: 54}});
makeChart('cC', {series: [twistX30, twistX35, twistX40, twistX45, twistX50], tension: 0,
  yTicks: yTicksC, yTickLabels: yTickLabelsC, yTitle: 'Twist error [m/s]',
  yW: 57, xH: 24, padTop: 10, padRight: 6, yTitlePad: 23, xTitlePad: 3,
  legend: {dx: 2, dy: 1, w: 38, h: 55}});
makeChart('cD', {series: [velY30, velY35, velY40, velY45, velY50], tension: 0.2,
  yTicks: yTicksD, yTickLabels: yTickLabelsD, yTitle: 'Velocity [m/s]',
  yW: 43, xH: 24, padTop: 10, padRight: 9, yTitlePad: 8, xTitlePad: 4,
  legend: {dx: 2, dy: 3, w: 38, h: 53}});
makeChart('cE', {series: [poseY30, poseY35, poseY40, poseY45, poseY50], tension: 0.2,
  yTicks: yTicksE, yTickLabels: yTickLabelsE, yTitle: 'Pose error [m]',
  yW: 50, xH: 24, padTop: 10, padRight: 9, yTitlePad: 15, xTitlePad: 4,
  legend: {dx: -1, dy: 3, w: 42, h: 53}});
makeChart('cF', {series: [twistY30, twistY35, twistY40, twistY45, twistY50], tension: 0,
  yTicks: yTicksF, yTickLabels: yTickLabelsF, yTitle: 'Twist error [m/s]',
  yW: 52, xH: 24, padTop: 8, padRight: 6, yTitlePad: 23, xTitlePad: 4,
  legend: {dx: 2, dy: 1, w: 39, h: 56}});

function fitCaptions() {
  document.querySelectorAll('.cap').forEach(el => {
    el.style.transform = 'none';
    const w = el.getBoundingClientRect().width;
    const target = parseFloat(el.dataset.w);
    if (w > 0) el.style.transform = 'scaleX(' + (target / w).toFixed(4) + ')';
  });
}
fitCaptions();
if (document.fonts && document.fonts.ready) document.fonts.ready.then(fitCaptions);
</script>
</body></html>
